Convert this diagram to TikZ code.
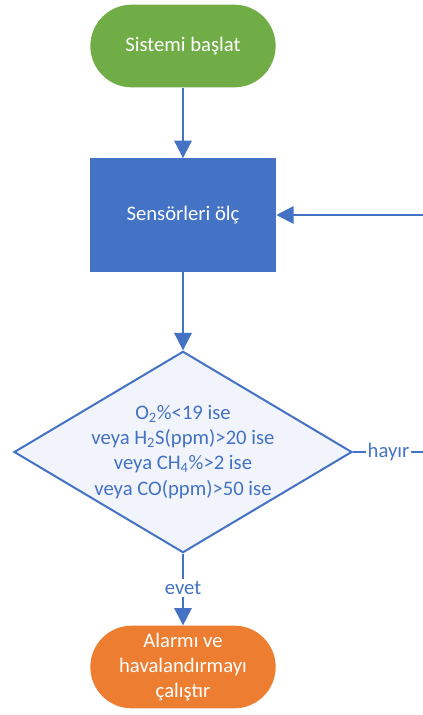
\documentclass[tikz,border=0pt]{standalone}
\usepackage{fontspec}
\setmainfont{Carlito}
\usetikzlibrary{
    arrows.meta,
    shapes.geometric
}

\definecolor{flowblue}{HTML}{4472C4}
\definecolor{flowgreen}{HTML}{70AD47}
\definecolor{floworange}{HTML}{ED7D31}
\definecolor{flowpale}{HTML}{F1F4FA}

\tikzset{
    chartfont/.style={font=\fontsize{15.5}{18.8}\selectfont},
    terminal/.style={rectangle, rounded corners=31pt, minimum width=139pt,
        minimum height=62pt, text=white, align=center, chartfont},
    process/.style={rectangle, fill=flowblue, minimum width=139.5pt,
        minimum height=85pt, text=white, chartfont},
    decision/.style={diamond, draw=flowblue, line width=1.5pt, fill=flowpale,
        minimum width=253.5pt, minimum height=151pt, inner sep=0pt},
    flow/.style={draw=flowblue, line width=1.5pt,
        -{Triangle[length=13pt,width=13pt]}},
    edgelabel/.style={fill=white, text=flowblue, inner sep=1.5pt, chartfont}
}

\begin{document}
\begin{tikzpicture}[x=0.75pt, y=-0.75pt]

\useasboundingbox (0,0) rectangle (422,715);

% Start
\node[terminal, fill=flowgreen] (start) at (183,46) {Sistemi başlat};

% Measure
\node[process] (meas) at (183,215) {Sensörleri ölç};

% Decision
\node[decision, label={[text=flowblue, align=center, chartfont]center:
    O\textsubscript{2}\%<19 ise\\
    veya H\textsubscript{2}S(ppm)>20 ise\\
    veya CH\textsubscript{4}\%>2 ise\\
    veya CO(ppm)>50 ise}] (dec) at (183,452) {};

% Alarm
\node[terminal, fill=floworange] (alarm) at (183,667)
    {Alarmı ve\\havalandırmayı\\çalıştır};

% Return point (outside the page)
\coordinate (ret) at (424,452);

% Connectors
\draw[flow] (start) -- (meas);
\draw[flow] (meas) -- (dec);
\draw[flow] (dec) -- node[edgelabel, pos=0.48] {evet} (alarm);
\draw[flow] (dec.east) -- node[edgelabel, pos=0.5] {hayır} (ret)
    |- (meas.east);

\end{tikzpicture}
\end{document}
